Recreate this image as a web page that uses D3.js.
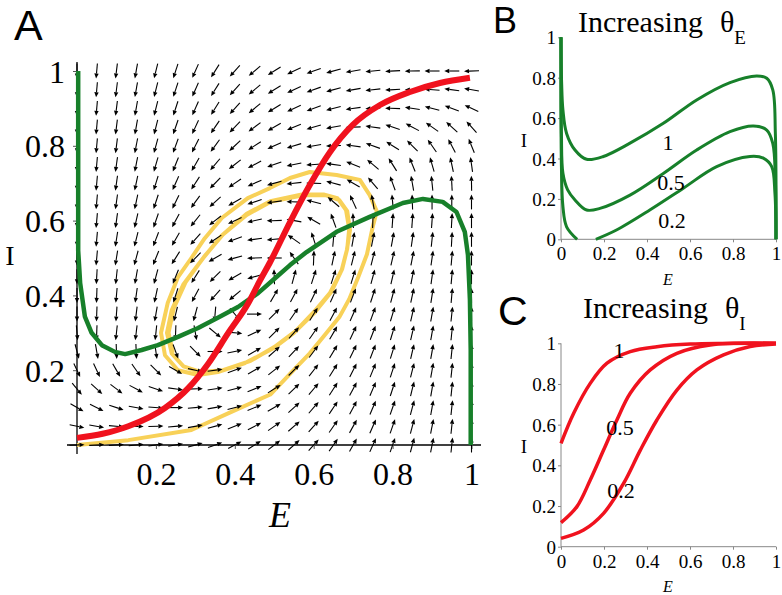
<!DOCTYPE html>
<html><head><meta charset="utf-8">
<script src="https://cdn.jsdelivr.net/npm/d3@7/dist/d3.min.js"></script>
<style>body{margin:0;background:#fff}svg{display:block}</style>
</head><body>
<svg id="chart" width="782" height="595"></svg>
<script>
// ---------------- DATA ----------------
// Panel A vector field grid (E columns, I rows from top) and arrow directions (degrees, 0 = right, 90 = up)
const fieldE = [0,0.05,0.1,0.15,0.2,0.25,0.3,0.35,0.4,0.45,0.5,0.55,0.6,0.65,0.7,0.75,0.8,0.85,0.9,0.95,1];
const fieldI = [1,0.95,0.9,0.85,0.8,0.75,0.7,0.65,0.6,0.55,0.5,0.45,0.4,0.35,0.3,0.25,0.2,0.15,0.1,0.05,0];
const fieldAngle = [
  [-90,-95,-97,-100,-104,-108,-114,-122,-132,-140,-148,-155,-160,-165,-170,-174,-177,-179,180,180,-178],
  [-90,-95,-97,-100,-104,-108,-114,-122,-132,-140,-148,-155,-160,-165,-170,-174,-177,180,176,172,170],
  [-90,-95,-97,-100,-104,-108,-114,-122,-132,-140,-148,-155,-160,-166,-172,-177,178,172,165,160,155],
  [-90,-95,-97,-100,-104,-109,-115,-124,-134,-143,-150,-157,-163,-170,-178,172,162,152,145,138,132],
  [-90,-95,-97,-101,-105,-110,-117,-126,-137,-147,-155,-163,-170,-178,172,160,148,135,125,118,112],
  [-90,-95,-98,-101,-106,-112,-120,-130,-142,-152,-160,-168,-176,172,158,140,122,112,106,102,98],
  [-90,-95,-98,-102,-107,-114,-123,-134,-146,-157,-165,-174,178,165,150,130,110,100,96,93,91],
  [-90,-95,-98,-102,-108,-116,-126,-138,-150,-162,-172,178,165,140,115,100,95,92,90,90,90],
  [-90,-95,-98,-103,-109,-118,-129,-142,-155,-167,-178,170,150,110,92,88,86,86,86,87,90],
  [-90,-95,-99,-104,-111,-120,-132,-146,-160,-172,-175,145,108,85,80,79,80,82,84,87,90],
  [-90,-95,-99,-105,-112,-122,-135,-150,-165,-178,180,125,88,78,76,76,77,79,82,85,90],
  [-90,-93,-96,-100,-105,-112,-122,-135,-150,-165,92,75,72,72,73,75,77,79,82,85,90],
  [-90,-92,-95,-98,-102,-108,-118,-132,-140,40,60,62,64,66,69,72,75,78,81,85,90],
  [-90,-92,-94,-97,-100,-104,-105,-95,-50,0,45,55,58,62,66,70,73,77,80,84,90],
  [-85,-92,-96,-97,-96,-92,-80,-40,-5,25,45,48,55,60,65,69,73,77,80,84,90],
  [-75,-80,-88,-88,-82,-70,-45,0,12,30,42,47,53,59,64,69,73,77,80,84,90],
  [-65,-65,-60,-55,-45,-30,-12,8,20,30,38,45,52,58,63,68,72,76,80,84,90],
  [-50,-42,-37,-28,-18,-8,2,8,15,22,32,44,50,57,62,67,72,76,80,84,90],
  [-30,-26,-18,-10,-5,0,5,10,15,22,30,42,49,56,62,67,71,75,80,84,90],
  [-12,-10,-5,-1,2,5,10,15,22,28,35,41,48,55,61,66,71,75,79,84,90],
  [2,3,4,6,8,10,15,20,28,33,38,42,48,55,61,66,71,75,79,84,90]
];
// Panel A nullclines and trajectory [E, I]
const greenA = [[0.003,1],[0.003,0.8],[0.003,0.65],[0.003,0.52],[0.008,0.433],[0.02,0.343],[0.037,0.3],[0.063,0.267],[0.096,0.249],[0.122,0.243],[0.164,0.254],[0.205,0.267],[0.256,0.289],[0.307,0.313],[0.357,0.34],[0.408,0.369],[0.459,0.406],[0.502,0.446],[0.54,0.481],[0.582,0.516],[0.658,0.57],[0.742,0.61],[0.826,0.647],[0.877,0.658],[0.927,0.65],[0.962,0.623],[0.983,0.57],[0.991,0.508],[0.996,0.388],[0.998,0.254],[0.998,0.0]];
const redA = [[0,0.019],[0.065,0.03],[0.13,0.05],[0.223,0.099],[0.282,0.152],[0.333,0.218],[0.383,0.299],[0.434,0.379],[0.464,0.44],[0.49,0.49],[0.54,0.596],[0.59,0.695],[0.641,0.783],[0.699,0.856],[0.768,0.909],[0.844,0.944],[0.92,0.968],[0.996,0.982]];
const trajA = [[0,0],[0.13,0.013],[0.29,0.04],[0.39,0.088],[0.49,0.135],[0.54,0.19],[0.59,0.245],[0.625,0.29],[0.665,0.342],[0.69,0.39],[0.713,0.449],[0.735,0.51],[0.75,0.585],[0.76,0.625],[0.742,0.668],[0.717,0.709],[0.658,0.722],[0.59,0.73],[0.54,0.714],[0.489,0.687],[0.433,0.66],[0.367,0.607],[0.324,0.553],[0.29,0.5],[0.256,0.449],[0.23,0.38],[0.213,0.3],[0.223,0.24],[0.256,0.2],[0.307,0.187],[0.357,0.195],[0.426,0.219],[0.5,0.26],[0.55,0.3],[0.6,0.355],[0.641,0.406],[0.671,0.468],[0.684,0.521],[0.692,0.575],[0.685,0.625],[0.665,0.655],[0.63,0.668],[0.573,0.668],[0.49,0.65],[0.43,0.615],[0.367,0.56],[0.32,0.5],[0.27,0.43],[0.24,0.36],[0.228,0.3],[0.24,0.245],[0.27,0.21],[0.315,0.195],[0.37,0.2],[0.44,0.225],[0.5,0.262],[0.555,0.305],[0.603,0.355],[0.645,0.41],[0.672,0.47],[0.685,0.525],[0.69,0.578],[0.682,0.628],[0.66,0.66],[0.625,0.67],[0.57,0.67],[0.49,0.652],[0.43,0.618],[0.37,0.563],[0.322,0.503],[0.275,0.435],[0.245,0.365],[0.232,0.3],[0.243,0.247]];
const ticksA = [0.2,0.4,0.6,0.8,1];
const tickLabelsA = ["0.2","0.4","0.6","0.8","1"];

// Panel B: E-nullclines for three theta_E values
const thetaLabels = ["1","0.5","0.2"];
const greenB1 = [[0,1],[0.003,0.772],[0.009,0.64],[0.026,0.524],[0.065,0.442],[0.119,0.396],[0.197,0.41],[0.321,0.476],[0.476,0.574],[0.631,0.69],[0.786,0.776],[0.91,0.809],[0.957,0.797],[0.985,0.74],[0.997,0.525],[1,0]];
const greenB05 = [[0,1],[0.002,0.524],[0.009,0.327],[0.031,0.245],[0.065,0.195],[0.119,0.145],[0.181,0.153],[0.321,0.219],[0.476,0.326],[0.631,0.442],[0.786,0.533],[0.895,0.561],[0.957,0.541],[0.985,0.475],[0.997,0.294],[1,0]];
const greenB02a = [[0,1],[0.002,0.359],[0.009,0.161],[0.026,0.062],[0.075,0]];
const greenB02b = [[0.162,0],[0.258,0.046],[0.413,0.145],[0.569,0.253],[0.724,0.36],[0.879,0.41],[0.941,0.402],[0.98,0.36],[0.995,0.228],[1,0]];
// Panel C: I-nullclines for three theta_I values
const redC1 = [[0,0.508],[0.059,0.656],[0.136,0.803],[0.214,0.902],[0.322,0.959],[0.446,0.983],[0.601,0.996],[1,1]];
const redC05 = [[0,0.118],[0.074,0.197],[0.136,0.328],[0.198,0.475],[0.26,0.623],[0.322,0.754],[0.415,0.869],[0.539,0.951],[0.694,0.992],[1,1]];
const redC02 = [[0,0.041],[0.105,0.082],[0.198,0.164],[0.291,0.311],[0.369,0.475],[0.446,0.623],[0.539,0.77],[0.632,0.869],[0.756,0.943],[0.88,0.984],[1,0.997]];
const ticksBC = [0,0.2,0.4,0.6,0.8,1];
const tickLabelsBC = ["0","0.2","0.4","0.6","0.8","1"];

// ---------------- DRAW ----------------
const svg = d3.select("#chart");
const SERIF = "'Liberation Serif','Times New Roman',serif";
const SANS = "'Liberation Sans','Open Sans','DejaVu Sans',sans-serif";
const GREEN = "#17802a", RED = "#f0121e", ORANGE = "#f8d158";

// ===== Panel A =====
const xA = d3.scaleLinear().domain([0,1]).range([77,471.5]);
const yA = d3.scaleLinear().domain([0,1]).range([445,71]);
const gA = svg.append("g");
const lineA = d3.line().x(d=>xA(d[0])).y(d=>yA(d[1]));

gA.append("line").attr("x1",67).attr("x2",481).attr("y1",yA(0)).attr("y2",yA(0)).attr("stroke","#000").attr("stroke-width",1.3);
gA.append("line").attr("x1",xA(0)).attr("x2",xA(0)).attr("y1",454).attr("y2",62).attr("stroke","#000").attr("stroke-width",1.3);

const axXA = gA.append("g").attr("transform",`translate(0,${yA(0)})`)
  .call(d3.axisBottom(xA).tickValues(ticksA).tickSize(4).tickFormat((d,i)=>tickLabelsA[i]));
const axYA = gA.append("g").attr("transform",`translate(${xA(0)},0)`)
  .call(d3.axisLeft(yA).tickValues(ticksA).tickSize(4).tickFormat((d,i)=>tickLabelsA[i]));
[axXA,axYA].forEach(a=>{a.select(".domain").remove(); a.selectAll(".tick line").attr("stroke","#555");});
axXA.selectAll("text").attr("y",40).attr("dy",0).attr("font-family",SERIF).attr("font-size",32).attr("fill","#000");
axYA.selectAll("text").attr("x",-12).attr("dy",11).attr("font-family",SERIF).attr("font-size",32).attr("fill","#000");

// trajectory
gA.append("path").datum(trajA).attr("d",lineA).attr("fill","none").attr("stroke",ORANGE).attr("stroke-width",4).attr("stroke-linejoin","round");

// vector field
const L = 15, HL = 5, HW = 2.2;
const arrows = [];
fieldI.forEach((I,r)=>fieldE.forEach((E,c)=>arrows.push({E,I,a:fieldAngle[r][c]})));
const gF = gA.append("g");
arrows.forEach(d=>{
  const cx = xA(d.E), cy = yA(d.I), t = d.a*Math.PI/180;
  const ux = Math.cos(t), uy = -Math.sin(t);
  const x0 = cx-ux*L/2, y0 = cy-uy*L/2, x1 = cx+ux*L/2, y1 = cy+uy*L/2;
  const bx = x1-ux*HL, by = y1-uy*HL;
  gF.append("line").attr("x1",x0).attr("y1",y0).attr("x2",bx).attr("y2",by).attr("stroke","#000").attr("stroke-width",1.1);
  gF.append("path").attr("d",`M${x1},${y1}L${bx-uy*HW},${by+ux*HW}L${bx+uy*HW},${by-ux*HW}Z`).attr("fill","#000");
});

// nullclines
gA.append("path").datum(greenA).attr("d",lineA).attr("fill","none").attr("stroke",GREEN).attr("stroke-width",4.5).attr("stroke-linejoin","round");
gA.append("path").datum(redA).attr("d",d3.line().x(d=>xA(d[0])).y(d=>yA(d[1])).curve(d3.curveMonotoneX)).attr("fill","none").attr("stroke",RED).attr("stroke-width",6);

// labels
svg.append("text").attr("x",14).attr("y",40).attr("font-family",SANS).attr("font-size",43).text("A");
svg.append("text").attr("x",280).attr("y",527).attr("text-anchor","middle").attr("font-family",SERIF).attr("font-style","italic").attr("font-size",36).text("E");
svg.append("text").attr("x",10).attr("y",265).attr("text-anchor","middle").attr("font-family",SERIF).attr("font-size",28).text("I");

// ===== Small panels =====
function smallPanel(o){
  const x = d3.scaleLinear().domain([0,1]).range([561,776]);
  const y = d3.scaleLinear().domain([0,1]).range([o.bottom,o.top]);
  const g = svg.append("g");
  g.append("line").attr("x1",x(0)).attr("x2",x(1)).attr("y1",y(0)).attr("y2",y(0)).attr("stroke","#888").attr("stroke-width",1);
  g.append("line").attr("x1",x(0)).attr("x2",x(0)).attr("y1",y(0)).attr("y2",y(1)).attr("stroke","#888").attr("stroke-width",1);
  const ax = g.append("g").attr("transform",`translate(0,${y(0)})`)
    .call(d3.axisBottom(x).tickValues(ticksBC).tickSize(3).tickFormat((d,i)=>tickLabelsBC[i]));
  const ay = g.append("g").attr("transform",`translate(${x(0)},0)`)
    .call(d3.axisLeft(y).tickValues(ticksBC).tickSize(3).tickFormat((d,i)=>tickLabelsBC[i]));
  [ax,ay].forEach(a=>{a.select(".domain").remove(); a.selectAll(".tick line").attr("stroke","#888");});
  ax.selectAll("text").attr("y",21).attr("dy",0).attr("font-family",SERIF).attr("font-size",19).attr("fill","#000");
  ay.selectAll("text").attr("x",-5).attr("dy",6.5).attr("font-family",SERIF).attr("font-size",19).attr("fill","#000");
  const ln = d3.line().x(d=>x(d[0])).y(d=>y(d[1])).curve(d3.curveCatmullRom.alpha(0.5));
  o.curves.forEach(cv=>g.append("path").datum(cv).attr("d",ln).attr("fill","none").attr("stroke",o.color).attr("stroke-width",o.width));
  o.labels.forEach(l=>g.append("text").attr("x",l.x).attr("y",l.y).attr("text-anchor","middle").attr("font-family",SERIF).attr("font-size",22).text(l.t));
  const t = g.append("text").attr("x",o.titleX).attr("y",o.titleBase).attr("font-family",SERIF).attr("font-size",30);
  t.append("tspan").text("Increasing");
  t.append("tspan").attr("dx",17).text("θ");
  t.append("tspan").attr("dy",12).attr("font-size",19).text(o.sub);
  g.append("text").attr("x",o.letterX).attr("y",o.letterBase).attr("font-family",SANS).attr("font-size",o.letterSize).text(o.letter);
  g.append("text").attr("x",668).attr("y",o.eBase).attr("text-anchor","middle").attr("font-family",SERIF).attr("font-style","italic").attr("font-size",16).text("E");
  g.append("text").attr("x",524).attr("y",o.iY).attr("text-anchor","middle").attr("font-family",SERIF).attr("font-size",19).text("I");
}
smallPanel({top:37.3,bottom:239.3,curves:[greenB1,greenB05,greenB02a,greenB02b],color:GREEN,width:3,sub:"E",
  titleX:578,titleBase:32,
  labels:[{t:thetaLabels[0],x:668,y:150},{t:thetaLabels[1],x:671,y:190},{t:thetaLabels[2],x:672,y:228}],
  letter:"B",letterX:493,letterBase:33,letterSize:36,eBase:285,iY:147});
smallPanel({top:343.3,bottom:546.7,curves:[redC1,redC05,redC02],color:RED,width:3.5,sub:"I",
  titleX:583,titleBase:318,
  labels:[{t:thetaLabels[0],x:619,y:358},{t:thetaLabels[1],x:620,y:435},{t:thetaLabels[2],x:621,y:498}],
  letter:"C",letterX:498,letterBase:325,letterSize:41,eBase:592,iY:453});
</script>
</body></html>
